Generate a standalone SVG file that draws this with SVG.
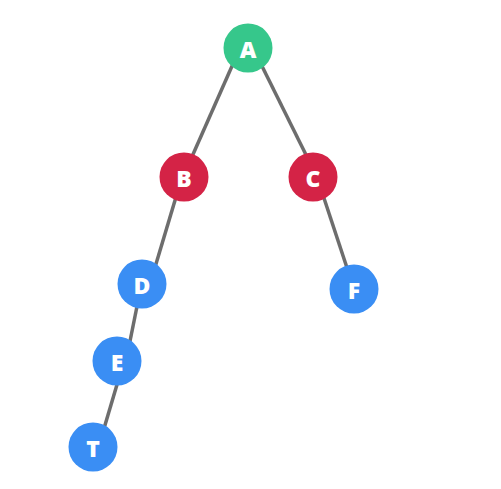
<svg xmlns="http://www.w3.org/2000/svg" width="501" height="489" viewBox="0 0 501 489">
<style>
.edge{stroke:#6d6d6d;stroke-width:3.5;fill:none}
.n text{font-family:"Open Sans","DejaVu Sans",sans-serif;font-weight:800;font-size:23px;fill:#ffffff;text-anchor:middle;dominant-baseline:central}
.g{fill:#36c78b}.r{fill:#d42346}.b{fill:#3a8ef4}
</style>
<rect width="501" height="489" fill="#ffffff"/>
<g id="connectors">
<line class="edge" x1="240" y1="48" x2="183" y2="177"/>
<line class="edge" x1="253" y1="48" x2="317" y2="177"/>
<line class="edge" x1="182" y1="177" x2="150" y2="284"/>
<line class="edge" x1="317" y1="177" x2="354" y2="289"/>
<line class="edge" x1="141.5" y1="284" x2="126" y2="361"/>
<line class="edge" x1="124" y1="361" x2="98.5" y2="447"/>
</g>
<g id="node-A" class="n"><circle class="g" cx="248" cy="48" r="24.5"/><text x="248" y="49">A</text></g>
<g id="node-B" class="n"><circle class="r" cx="184" cy="177" r="24.5"/><text x="184" y="178">B</text></g>
<g id="node-C" class="n"><circle class="r" cx="313" cy="177" r="24.5"/><text x="313" y="178">C</text></g>
<g id="node-D" class="n"><circle class="b" cx="142" cy="284" r="24.5"/><text x="142" y="285">D</text></g>
<g id="node-F" class="n"><circle class="b" cx="354" cy="289" r="24.5"/><text x="354" y="290">F</text></g>
<g id="node-E" class="n"><circle class="b" cx="117" cy="361" r="24.5"/><text x="117" y="362">E</text></g>
<g id="node-T" class="n"><circle class="b" cx="93" cy="447" r="24.5"/><text x="93" y="448">T</text></g>
</svg>
